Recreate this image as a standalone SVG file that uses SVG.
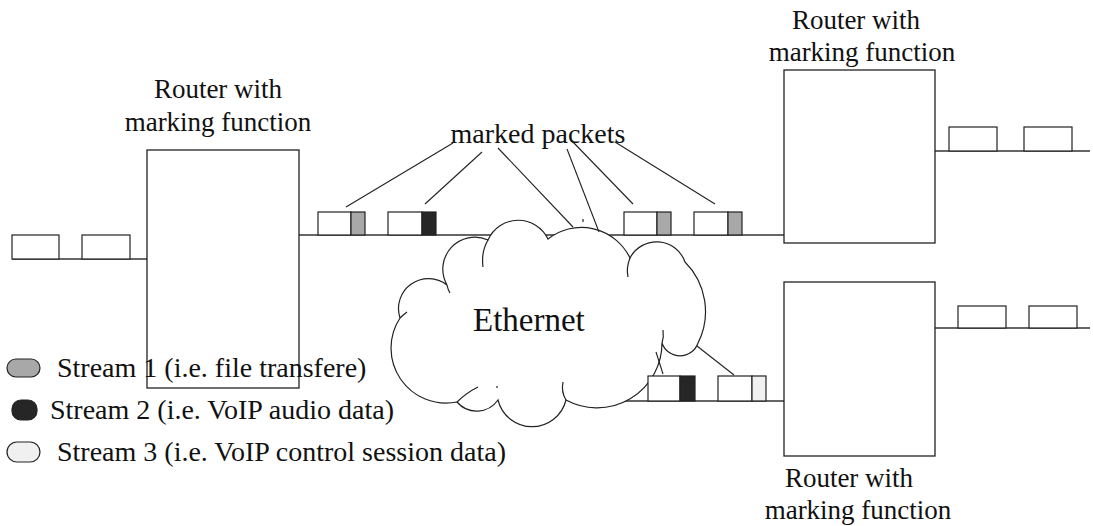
<svg xmlns="http://www.w3.org/2000/svg" width="1093" height="526" viewBox="0 0 1093 526">
  <style>
    .wire { stroke: #333; stroke-width: 1.4; fill: none; }
    .box { fill: #fff; stroke: #222; stroke-width: 1.3; }
    .pkt { fill: #fff; stroke: #222; stroke-width: 1.2; }
    .m1 { fill: #a8a8a8; stroke: #222; stroke-width: 1.2; }
    .m2 { fill: #262626; stroke: #222; stroke-width: 1.2; }
    .m3 { fill: #f0f0f0; stroke: #222; stroke-width: 1.2; }
    .cloud { fill: #fff; stroke: #222; stroke-width: 1.2; }
    .tail { fill: none; stroke: #222; stroke-width: 1.2; }
    .call { stroke: #222; stroke-width: 1.1; fill: none; }
    text { font-family: "Liberation Serif", "Times New Roman", serif; fill: #111; }
    .lbl { font-size: 27px; text-anchor: middle; }
    .leg { font-size: 28px; }
  </style>

  <!-- links between routers and the network -->
  <g id="connectors">
    <line class="wire" x1="12" y1="259" x2="147" y2="259"/>
    <line class="wire" x1="299" y1="235" x2="788" y2="235"/>
    <line class="wire" x1="935" y1="151" x2="1090" y2="151"/>
    <line class="wire" x1="935" y1="328" x2="1090" y2="328"/>
    <line class="wire" x1="622" y1="401" x2="786" y2="401"/>
  </g>

  <!-- routers -->
  <g id="router-left">
    <rect class="box" x="147" y="150" width="152" height="238"/>
    <text class="lbl" x="218" y="98">Router with</text>
    <text class="lbl" x="218" y="131">marking function</text>
  </g>
  <g id="router-top-right">
    <rect class="box" x="784" y="70" width="151" height="173"/>
    <text class="lbl" x="856" y="29">Router with</text>
    <text class="lbl" x="862" y="61">marking function</text>
  </g>
  <g id="router-bottom-right">
    <rect class="box" x="784" y="282" width="151" height="174"/>
    <text class="lbl" x="849" y="487">Router with</text>
    <text class="lbl" x="858" y="519">marking function</text>
  </g>

  <!-- Ethernet cloud -->
  <g id="ethernet">
    <path class="cloud" d="M457,402
      A55,55 0 0 1 400,318
      A30,30 0 0 1 447,285
      A32,32 0 0 1 488,240
      A33,33 0 0 1 548,239
      A54,54 0 0 1 630,258
      A30,30 0 0 1 685,262
      A70,70 0 0 1 698,343
      A19,19 0 0 1 662,343
      A65,65 0 0 1 566,400
      A35,35 0 0 1 498,400
      A26,26 0 0 1 457,402 Z"/>
    <path class="tail" d="M400,318 Q403,315 407,312"/>
    <path class="tail" d="M447,285 Q448,290 450,293"/>
    <path class="tail" d="M488,240 Q481,252 483,267"/>
    <path class="tail" d="M630,258 Q626,268 628,277"/>
    <path class="tail" d="M662,343 Q664,337 663,330"/>
    <path class="tail" d="M566,400 Q561,392 563,382"/>
    <path class="tail" d="M457,402 Q466,393 478,387"/>
    <line class="tail" x1="583" y1="219" x2="583" y2="222"/>
    <line class="tail" x1="497" y1="386" x2="497" y2="388"/>
    <text x="473" y="331" font-size="33">Ethernet</text>
  </g>

  <!-- packets entering the left router -->
  <g id="packets-in">
    <rect class="pkt" x="12" y="235" width="47" height="24"/>
    <rect class="pkt" x="82" y="235" width="48" height="24"/>
  </g>

  <!-- marked packets on the shared segment -->
  <g id="packets-marked">
    <rect class="pkt" x="318" y="212" width="33" height="23"/>
    <rect class="m1" x="351" y="212" width="14" height="23"/>
    <rect class="pkt" x="388" y="212" width="34" height="23"/>
    <rect class="m2" x="422" y="212" width="14" height="23"/>
    <rect class="pkt" x="624" y="212" width="33" height="23"/>
    <rect class="m1" x="657" y="212" width="14" height="23"/>
    <rect class="pkt" x="694" y="212" width="34" height="23"/>
    <rect class="m1" x="728" y="212" width="14" height="23"/>
  </g>
  <g id="packets-lower">
    <rect class="pkt" x="648" y="376" width="32" height="25"/>
    <rect class="m2" x="680" y="376" width="15" height="25"/>
    <rect class="pkt" x="718" y="376" width="34" height="25"/>
    <rect class="m3" x="752" y="376" width="14" height="25"/>
  </g>

  <!-- packets leaving the right routers -->
  <g id="packets-out">
    <rect class="pkt" x="949" y="127" width="48" height="24"/>
    <rect class="pkt" x="1024" y="127" width="48" height="24"/>
    <rect class="pkt" x="958" y="306" width="48" height="22"/>
    <rect class="pkt" x="1029" y="306" width="48" height="22"/>
  </g>

  <!-- callout lines for the marked packets -->
  <g id="callouts">
    <line class="call" x1="453" y1="143" x2="346" y2="207"/>
    <line class="call" x1="482" y1="152" x2="425" y2="204"/>
    <line class="call" x1="498" y1="148" x2="573" y2="227"/>
    <line class="call" x1="567" y1="149" x2="599" y2="232"/>
    <line class="call" x1="572" y1="141" x2="633" y2="204"/>
    <line class="call" x1="615" y1="142" x2="715" y2="204"/>
    <line class="call" x1="656" y1="352" x2="663" y2="374"/>
    <line class="call" x1="697" y1="346" x2="734" y2="375"/>
    <text x="538" y="143" font-size="28" text-anchor="middle">marked packets</text>
  </g>

  <!-- legend -->
  <g id="legend">
    <rect class="m1" x="7" y="359" width="33" height="18" rx="9"/>
    <text class="leg" x="57" y="377">Stream 1 (i.e. file transfere)</text>
    <rect class="m2" x="12" y="400" width="25" height="20" rx="9"/>
    <text class="leg" x="50" y="419">Stream 2 (i.e. VoIP audio data)</text>
    <rect class="m3" x="7" y="442" width="33" height="20" rx="10"/>
    <text class="leg" x="57" y="461">Stream 3 (i.e. VoIP control session data)</text>
  </g>
</svg>
